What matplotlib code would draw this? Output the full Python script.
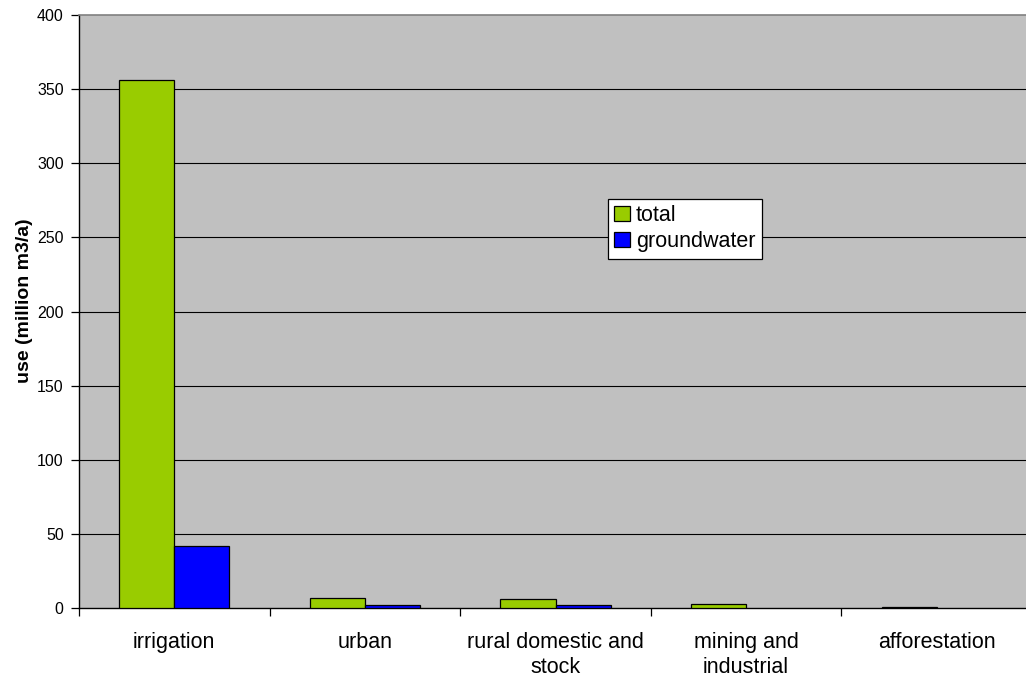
import matplotlib
matplotlib.use("Agg")
import matplotlib.pyplot as plt
import numpy as np

plt.rcParams['font.family'] = ['Liberation Sans', 'DejaVu Sans']

categories = ["irrigation", "urban", "rural domestic and\nstock",
              "mining and\nindustrial", "afforestation"]
total = [356, 7, 6, 3, 1]
groundwater = [42, 2, 2, 0, 0]
series_names = ["total", "groundwater"]
y_ticks = [0, 50, 100, 150, 200, 250, 300, 350, 400]

fig = plt.figure(figsize=(10.26, 6.79), dpi=100)
ax = fig.add_axes([79 / 1026, 71 / 679, 953 / 1026, 593 / 679])
ax.set_facecolor("#C0C0C0")

x = np.arange(len(categories))
w = 0.289
b1 = ax.bar(x - w / 2, total, width=w, color="#99CC00", edgecolor="black",
            linewidth=0.9, label=series_names[0], zorder=3)
b2 = ax.bar(x + w / 2, groundwater, width=w, color="#0000FF", edgecolor="black",
            linewidth=0.9, label=series_names[1], zorder=3)
# zero-height bars leave no visible mark
for bars, vals in ((b1, total), (b2, groundwater)):
    for rect, v in zip(bars, vals):
        if v == 0:
            rect.set_visible(False)

ax.set_xlim(-0.5, len(categories) - 0.5)
ax.set_ylim(0, 400)
ax.set_yticks(y_ticks)
ax.set_yticklabels([str(v) for v in y_ticks], fontsize=11.5)
for v in y_ticks[1:-1]:
    ax.axhline(v, color="black", linewidth=0.8, zorder=1)

ax.set_xticks(x)
ax.set_xticklabels(categories, fontsize=15.5, linespacing=1.25)
ax.tick_params(axis="x", which="major", length=0, pad=17)
ax.set_xticks(np.arange(-0.5, len(categories), 1.0), minor=True)
ax.tick_params(axis="x", which="minor", length=6, width=0.9, direction="out")
ax.tick_params(axis="y", length=6, width=0.9, direction="out", pad=5)

ax.spines["right"].set_visible(False)
ax.spines["top"].set_color("#808080")
ax.spines["top"].set_linewidth(1.2)
ax.spines["left"].set_color("black")
ax.spines["bottom"].set_color("black")
ax.spines["left"].set_linewidth(1.0)
ax.spines["bottom"].set_linewidth(1.0)

ax.set_ylabel("use (million m3/a)", fontsize=14, fontweight="bold")
ax.yaxis.set_label_coords(-46 / 953, 1 - (301 - 15) / 593)

leg = ax.legend(loc="upper left", bbox_to_anchor=((608 - 79) / 953, 1 - (199 - 15) / 593),
                fontsize=15.5, frameon=True, fancybox=False, framealpha=1,
                edgecolor="black", handlelength=0.7, handleheight=0.7,
                handletextpad=0.3, borderpad=0.3, labelspacing=0.22, borderaxespad=0)
leg.get_frame().set_linewidth(0.9)

fig.savefig("out.png", dpi=100)
